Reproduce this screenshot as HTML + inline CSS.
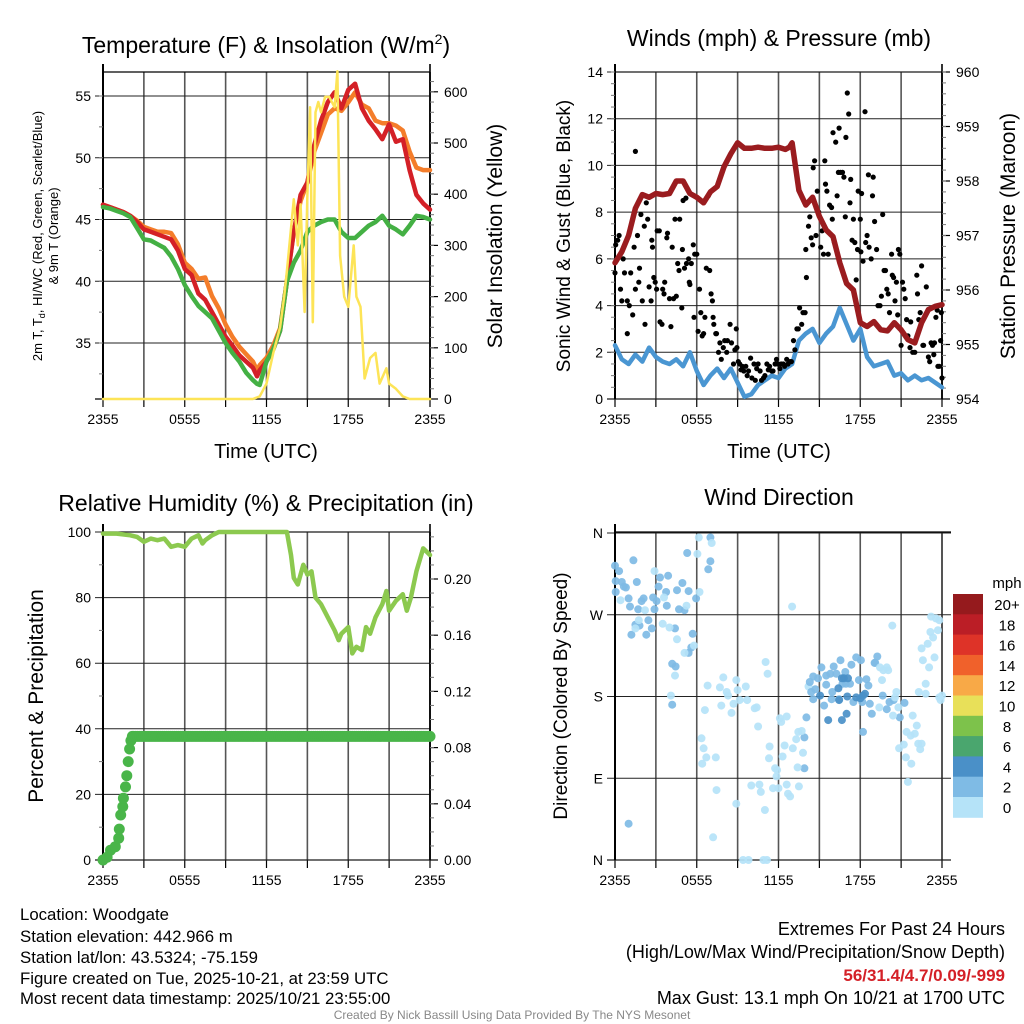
<!DOCTYPE html>
<html><head><meta charset="utf-8"><title>Woodgate Meteogram</title>
<style>
html,body{margin:0;padding:0;background:#fff;}
svg{display:block;font-family:"Liberation Sans",sans-serif;}
.ft{font-size:16.8px;fill:#000;}
.fr{font-size:18px;fill:#000;}
</style></head>
<body>
<svg id="chart" width="1024" height="1024" viewBox="0 0 1024 1024" xmlns="http://www.w3.org/2000/svg">
<rect width="1024" height="1024" fill="#fff"/>
<text x="266" y="53" font-size="23" text-anchor="middle">Temperature (F) &amp; Insolation (W/m<tspan dy="-9" font-size="14">2</tspan><tspan dy="9">)</tspan></text>
<text x="779" y="46" font-size="23" text-anchor="middle">Winds (mph) &amp; Pressure (mb)</text>
<text x="266" y="511" font-size="23" text-anchor="middle">Relative Humidity (%) &amp; Precipitation (in)</text>
<text x="779" y="505" font-size="23" text-anchor="middle">Wind Direction</text>

<text transform="translate(42,236) rotate(-90)" font-size="13" text-anchor="middle">2m T, T<tspan font-size="9" dy="3">d</tspan><tspan dy="-3">, HI/WC (Red, Green, Scarlet/Blue)</tspan></text>
<text transform="translate(58,236) rotate(-90)" font-size="13" text-anchor="middle">&amp; 9m T (Orange)</text>
<text transform="translate(502,236) rotate(-90)" font-size="21" text-anchor="middle">Solar Insolation (Yellow)</text>
<text x="266" y="458" font-size="20" text-anchor="middle">Time (UTC)</text>
<text transform="translate(570,236) rotate(-90)" font-size="19" text-anchor="middle">Sonic Wind &amp; Gust (Blue, Black)</text>
<text transform="translate(1015,236) rotate(-90)" font-size="21" text-anchor="middle">Station Pressure (Maroon)</text>
<text x="779" y="458" font-size="20" text-anchor="middle">Time (UTC)</text>
<text transform="translate(43,696) rotate(-90)" font-size="21" text-anchor="middle">Percent &amp; Precipitation</text>
<text transform="translate(567,696) rotate(-90)" font-size="19" text-anchor="middle">Direction (Colored By Speed)</text>
<text x="1007" y="588" font-size="15" text-anchor="middle">mph</text>

<g>
<text class="ft" x="20" y="920">Location: Woodgate</text>
<text class="ft" x="20" y="942">Station elevation: 442.966 m</text>
<text class="ft" x="20" y="963">Station lat/lon: 43.5324; -75.159</text>
<text class="ft" x="20" y="984">Figure created on Tue, 2025-10-21, at 23:59 UTC</text>
<text class="ft" x="20" y="1004">Most recent data timestamp: 2025/10/21 23:55:00</text>
</g>
<g text-anchor="end">
<text class="fr" x="1005" y="935">Extremes For Past 24 Hours</text>
<text class="fr" x="1005" y="958">(High/Low/Max Wind/Precipitation/Snow Depth)</text>
<text x="1005" y="981" font-size="17" font-weight="bold" fill="#d42027">56/31.4/4.7/0.09/-999</text>
<text class="fr" x="1005" y="1004">Max Gust: 13.1 mph On 10/21 at 1700 UTC</text>
</g>
<text x="512" y="1019" font-size="12" fill="#888" text-anchor="middle">Created By Nick Bassill Using Data Provided By The NYS Mesonet</text>
</svg>
<script>
// ---------- DATA ----------
const timeTickLabels = ["2355","0555","1155","1755","2355"];
const tempTicks = [35,40,45,50,55];
const solarTicks = [0,100,200,300,400,500,600];
const windTicks = [0,2,4,6,8,10,12,14];
const presTicks = [954,955,956,957,958,959,960];
const rhTicks = [0,20,40,60,80,100];
const precipTicks = [0,0.04,0.08,0.12,0.16,0.20];
const dirTicks = [0,90,180,270,360];
const dirTickLabels = ["N","E","S","W","N"];
const speedBins = ["20+","18","16","14","12","10","8","6","4","2","0"];

const tHours = [0,0.5,1,1.5,2,2.5,3,3.5,4,4.5,5,5.5,6,6.5,7,7.5,8,8.5,9,9.5,10,10.5,11,11.3,11.5,12,12.5,13,13.5,14,14.5,15,15.5,16,16.5,17,17.5,18,18.5,19,19.5,20,20.5,21,21.5,22,22.5,23,23.5,24];
const temp2m = [46.2,46,45.8,45.6,45.3,44.8,44.2,44,43.8,43.6,43.4,42.5,41,40.5,39,38.5,37.5,36.5,35.5,34.8,34,33.5,33,32.3,32.8,33.5,34.5,36,40,44,47,48,51,53,54.5,55.3,54,55.5,56,54,53,52.3,51.5,52.7,51.3,51.5,49,47,46.3,45.8];
const temp9m = [46.2,46,45.8,45.6,45.3,44.9,44.4,44.2,44,44,43.9,43,41.5,41,40.2,40.3,38.8,37.8,36.5,35.5,34.7,34.1,33.5,32.8,33.2,33.8,34.8,36.2,40,44,46.5,48,50.5,52,53.5,54,53.8,54.5,55.3,54.3,54,53,52.8,52.8,52.6,52.2,50.5,49.2,49,49];
const dewPt = [46,45.9,45.7,45.5,45.2,44.3,43.4,43.3,43,42.7,42,41,39.7,38.8,38,37.5,37,36,35,34.2,33.5,32.6,32,31.7,31.6,33.5,34.5,36,40,41.5,42.5,44,44.5,44.8,45,45,44,43.5,43.5,44,44.5,44.8,45.3,44.5,44.2,43.8,44.5,45.3,45.2,45];

const solarHours = [0,11,11.5,12,12.5,13,13.3,13.5,14,14.3,14.5,14.8,15,15.2,15.4,15.6,15.8,16,16.3,16.6,17,17.2,17.4,17.7,18,18.4,18.6,18.9,19.2,19.6,20,20.3,20.8,21,21.5,22,22.5,24];
const solarVals = [0,0,5,30,90,140,200,250,390,300,380,170,400,570,150,560,580,560,590,590,570,640,280,200,180,300,200,180,40,80,90,30,60,30,20,5,0,0];

const presVals = [956.5,956.7,957.0,957.5,957.75,957.7,957.77,957.75,957.77,958.0,958.0,957.77,957.7,957.6,957.8,957.9,958.26,958.5,958.7,958.6,958.6,958.62,958.6,958.6,958.62,958.58,958.62,958.7,957.83,957.56,957.7,957.35,957.1,956.98,956.5,956.12,956.0,955.4,955.33,955.42,955.27,955.25,955.4,955.27,955.09,955.03,955.4,955.64,955.7,955.73];
const pHours = [0,0.5,1,1.5,2,2.5,3,3.5,4,4.5,5,5.5,6,6.5,7,7.5,8,8.5,9,9.5,10,10.5,11,11.5,12,12.5,12.8,13,13.5,14,14.5,15,15.5,16,16.5,17,17.5,18,18.5,19,19.5,20,20.5,21,21.5,22,22.5,23,23.5,24];
const wHours = [0,0.5,1,1.5,2,2.5,3,3.5,4,4.5,5,5.5,6,6.5,7,7.5,8,8.5,9,9.5,10,10.5,11,11.5,12,12.5,13,13.5,14,14.5,15,15.5,16,16.5,17,17.5,18,18.5,19,19.5,20,20.5,21,21.5,22,22.5,23,23.5,24];
const windVals = [2.3,1.7,1.5,1.9,1.6,2.2,1.8,1.6,1.5,1.7,1.4,2.0,1.2,0.6,1.0,1.3,0.9,1.3,0.7,0.1,0.2,0.6,0.8,1.0,0.9,1.3,1.5,2.5,2.8,3.0,2.4,2.8,3.1,3.9,3.2,2.5,3.0,1.8,1.4,1.5,1.6,1.0,1.1,0.8,1.0,0.8,0.9,0.7,0.5];

const gustHours = [0,0.05,0.2,0.3,0.6,0.4,0.5,0.7,0.9,1.05,1.15,1.3,0.9,1.4,1.5,1.5,1.65,1.75,1.8,1.9,2.0,2.15,2.2,2.3,2.4,2.5,2.65,2.7,2.75,2.85,2.95,3.05,3.1,3.25,3.3,3.45,3.5,3.6,3.65,3.8,3.85,4.0,4.1,4.2,4.3,4.4,4.5,4.6,4.7,4.75,4.9,4.95,5.0,5.1,5.2,5.25,5.4,5.45,5.5,5.6,5.75,5.8,5.85,6.0,6.1,6.2,6.3,6.4,6.5,6.6,6.7,6.85,6.95,7.05,7.15,7.2,7.25,7.4,7.45,7.6,7.7,7.8,7.95,8.05,8.2,8.25,8.45,8.55,8.7,8.8,8.9,8.95,9.05,9.15,9.25,9.35,9.45,9.6,9.7,9.8,9.95,10.05,10.2,10.3,10.4,10.5,10.65,10.75,10.9,11.0,11.15,11.25,11.35,11.5,11.6,11.75,11.85,11.95,12.1,12.2,12.35,12.45,12.6,12.7,12.85,12.95,13.1,13.2,13.35,13.45,13.55,13.7,13.8,13.95,14.05,14.0,14.2,14.3,14.4,14.5,14.55,14.65,14.75,14.85,14.95,15.1,15.2,15.3,15.4,15.45,15.55,15.65,15.75,15.9,15.95,16.0,16.1,16.2,16.3,16.4,16.45,16.55,16.7,16.8,16.9,16.95,17.05,17.15,17.25,17.3,17.4,17.5,17.6,17.7,17.8,17.85,18.0,18.05,18.1,18.2,18.35,18.4,18.5,18.6,18.65,18.8,18.9,18.95,19.05,19.2,19.3,19.45,19.55,19.65,19.75,19.85,19.95,20.05,20.15,20.3,20.35,20.45,20.55,20.65,20.75,20.8,20.9,21.0,21.1,21.2,21.3,21.4,21.5,21.65,21.7,21.85,22.0,22.15,22.2,22.3,22.4,22.5,22.6,22.65,22.85,23.0,23.1,23.2,23.3,23.4,23.45,23.55,23.65,23.7,23.8,23.9,23.95,24.0];
const gustVals = [5.4,6.6,6.8,7.0,6.0,4.7,4.2,5.4,4.2,4.0,5.4,3.6,2.8,6.5,10.6,4.7,7.0,5.0,5.6,7.9,4.2,7.4,3.2,8.4,7.7,4.8,4.2,6.8,6.5,5.2,5.0,4.7,7.2,7.2,3.3,3.2,4.7,4.5,5.0,6.9,7.1,4.3,3.1,6.5,4.3,7.7,4.4,5.8,5.5,7.7,3.9,6.4,8.5,5.6,8.6,5.8,6.0,5.0,4.9,5.8,6.6,3.5,6.2,6.2,2.9,4.7,3.7,2.7,2.8,3.5,5.6,8.7,5.5,4.5,4.2,3.5,3.2,2.8,2.8,2.0,2.4,1.7,2.2,2.5,2.0,2.5,3.2,2.4,1.5,2.1,3.0,2.2,1.6,1.5,1.25,1.4,1.2,1.4,1.0,1.2,1.75,0.9,1.5,0.8,1.3,1.5,1.2,0.8,0.9,1.0,1.5,1.25,1.4,1.2,1.2,1.5,1.7,1.5,1.3,1.5,1.5,1.4,1.7,1.5,1.6,1.6,2.5,2.1,3.0,3.0,3.9,3.2,3.7,3.7,5.2,6.4,7.4,7.8,6.9,6.6,9.9,10.2,7.0,8.9,8.0,6.5,7.2,6.2,10.2,9.2,8.9,6.2,8.3,8.2,7.7,11.4,6.7,11.0,8.7,9.7,11.6,9.7,9.7,9.5,7.8,11.2,13.1,12.2,8.4,9.4,6.8,7.7,6.7,5.1,6.4,8.9,7.7,6.3,8.8,5.9,12.3,6.7,7.0,9.6,6.5,6.0,8.7,9.5,7.6,6.4,4.0,4.0,4.4,7.9,5.5,5.5,4.7,4.5,3.7,6.2,5.3,5.2,4.2,5.0,3.6,6.4,6.2,2.3,5.0,4.7,4.3,3.4,2.7,2.2,3.3,2.0,2.0,5.3,4.5,3.4,3.7,5.7,2.3,2.3,4.8,1.8,1.6,2.4,2.3,1.9,2.4,3.5,3.8,1.4,1.4,2.5,3.7,0.9];

const rhHours = [0,1,2,2.5,3,3.5,4,4.5,5,5.5,6,6.5,7,7.3,7.5,8,8.5,13.5,13.8,14,14.3,14.7,15,15.3,15.6,16,16.5,17,17.3,17.5,18,18.3,18.6,19,19.3,19.6,20,20.5,20.8,21,21.5,22,22.3,22.6,23,23.5,24];
const rhVals = [99.5,99.5,99,98.5,97,98,97.5,98,95.5,96,95.5,98,99,96.5,97.5,99,100,100,93,86,84,90,87,88,80,78,74,70,67,69,71,63,65,64,71,69,74,78,82,76,79,81,76,80,88,95,93];
const precipHours = [0,0.3,0.55,0.9,1.15,1.2,1.3,1.45,1.5,1.65,1.75,1.85,1.95,2.05,2.15];
const precipVals = [0,0.002,0.007,0.0095,0.0155,0.022,0.032,0.038,0.044,0.052,0.06,0.07,0.079,0.085,0.088];
const precipFinal = 0.088;

const dirHours = [0,0.3,0.05,0.5,0.65,0.05,0.8,1.0,1.1,1.35,1.6,1.7,1.95,2.1,1.8,1.5,1.2,2.3,2.45,2.7,2.8,2.9,3.05,3.2,3.3,3.75,3.8,3.9,4.4,4.2,4.45,4.55,4.7,4.95,5.1,5.3,5.4,5.7,5.6,5.4,5.95,4.2,1.0,6.85,7.0,7.0,14.05,13.9,13.9,18.2,19.05,
0.4,1.5,1.75,2.2,2.9,3.6,3.5,4.0,4.55,5.1,4.4,4.1,5.25,5.8,6.05,6.15,6.2,7.1,6.8,6.6,6.35,6.5,6.7,6.4,7.4,7.45,7.2,7.7,7.95,8.2,7.8,8.3,8.7,8.9,9.0,9.15,9.6,9.7,10.25,10.4,10.5,8.55,8.9,9.4,9.8,10.0,10.6,10.7,10.9,11.0,11.05,11.2,11.35,11.3,11.6,11.75,11.85,11.9,12.0,12.1,12.3,12.45,12.6,12.7,12.85,12.6,13.0,13.05,13.3,13.45,13.5,13.7,13.4,13.8,14.2,11.15,12.2,
14.3,14.4,14.55,14.7,14.55,14.9,15.15,15.35,15.5,15.5,15.8,15.95,16.05,16.25,16.55,16.7,16.9,16.95,17.35,17.25,17.5,17.7,17.9,18.05,18.15,18.45,18.6,18.7,18.85,19.1,19.25,19.65,19.95,20.15,20.45,20.9,21.25,15.9,16.45,
15.65,16.4,16.65,16.65,16.8,17.0,17.05,17.1,17.7,18.0,18.2,18.35,16.45,15.05,
19.45,19.7,20.05,19.95,19.6,19.4,20.35,20.4,20.65,20.8,20.55,20.85,21.2,21.35,21.5,21.4,21.75,21.7,21.85,22.0,22.15,22.25,22.4,22.5,22.3,22.5,22.6,22.8,22.95,23.05,23.15,23.2,23.35,23.45,23.55,23.7,23.8,23.9,23.8,24.0,22.8];
const dirDeg = [324,318,307,306,301,295,300,288,279,330,306,276,285,288,258,259,248,248,264,255,289,276,285,301,311,295,280,313,255,216,213,297,276,305,275,338,296,249,234,228,288,171,40,320,329,355,157,135,101,141,217,
286,255,264,275,318,289,260,256,243,228,203,181,280,236,337,355,295,349,192,165,134,123,113,106,113,77,25,190,201,185,170,181,172,198,187,176,191,176,167,168,147,162,62,0,0,82,83,75,0,55,218,205,125,112,79,101,92,99,79,156,114,126,158,73,70,83,279,123,133,141,81,142,102,118,191,0,152,
196,185,202,188,177,200,212,170,203,193,205,185,213,205,220,194,207,194,215,194,174,223,198,220,174,199,192,172,161,217,224,181,166,174,176,157,173,177,177,
154,189,200,154,200,161,180,200,179,178,181,183,176,181,
212,209,209,212,198,168,258,159,185,168,179,123,127,113,86,141,106,137,159,139,148,128,122,128,185,233,220,194,238,212,251,268,245,223,266,253,264,176,179,181,183];
const dirSpeed = [3,3,3,3,3,3,3,3,3,3,3,3,3,3,3,3,3,3,3,3,3,3,3,3,3,3,3,3,3,3,3,3,3,3,3,3,3,3,3,3,3,3,3,3,3,3,3,3,3,3,3,
1,1,1,1,1,1,1,1,1,1,1,1,1,1,1,1,1,1,1,1,1,1,1,1,1,1,1,1,1,1,1,1,1,1,1,1,1,1,1,1,1,1,1,1,1,1,1,1,1,1,1,1,1,1,1,1,1,1,1,1,1,1,1,1,1,1,1,1,1,1,1,1,1,1,1,1,1,
3,3,3,3,3,3,3,3,3,3,3,3,3,3,3,3,3,3,3,3,3,3,3,3,3,3,3,3,3,3,3,3,3,3,3,3,3,3,3,
5,5,5,5,5,5,5,5,5,5,5,5,5,5,
1,1,1,1,1,1,1,1,1,1,1,1,1,1,1,1,1,1,1,1,1,1,1,1,1,1,1,1,1,1,1,1,1,1,1,1,1,1,1,1,1];

// ---------- helpers ----------
const NS = "http://www.w3.org/2000/svg";
const svg = document.getElementById("chart");
function mk(tag, attrs, parent){
  const e = document.createElementNS(NS, tag);
  for (const k in attrs) e.setAttribute(k, attrs[k]);
  (parent || svg).appendChild(e);
  return e;
}
const binColors = ["#951a1d","#bb1e26","#de3328","#f0612b","#f8a947","#e8e059","#7dc24b","#4aa66e","#4a90c8","#7fbbe5","#b5e3f8"];
function speedColor(s){ if (s < 2) return binColors[10]; if (s < 4) return binColors[9]; if (s < 6) return binColors[8]; return binColors[7]; }

const L = {x0:103, x1:430}, R = {x0:615, x1:942};
const T = {y0:72, y1:399}, B = {y0:532, y1:860};
function xs(p){ return h => p.x0 + h * (p.x1 - p.x0) / 24; }
const x1 = xs(L), x2 = xs(R);
const yTemp = v => 96 + (55 - v) * 12.35;
const ySolar = w => 399 - w * 0.512;
const yWind = m => 399 - m * (327/14);
const yPres = p => 399 - (p - 954) * 54.5;
const yRH = v => 860 - v * 3.28;
const yPrec = v => 860 - v * 1405;
const yDir = d => 860 - d * 327 / 360;

function frame(name, p, yr, xf, yTicksL, yfL, labL, yTicksR, yfR, labR, hGrid){
  const g = mk("g", {});
  
  
  for (let i = 0; i <= 8; i++){
    const x = xf(i*3);
    const l = mk("line", {x1:x, x2:x, y1:yr.y0, y2:yr.y1, stroke:"#555", "stroke-width":(i===0||i===8)?2:1.6}, g);
    
    
    const tk = mk("line", {x1:x, x2:x, y1:yr.y1, y2:yr.y1+8, stroke:"#000", "stroke-width":1.2}, g);
    
    
  }
  for (let i = 0; i < timeTickLabels.length; i++){
    const t = mk("text", {x:xf(i*6), y:yr.y1+25, "font-size":14, "text-anchor":"middle"}, g);
    t.textContent = timeTickLabels[i];
    
    
  }
  const top = mk("line", {x1:p.x0, x2:p.x1 + (hGrid==='wide'?9:0), y1:yr.y0, y2:yr.y0, stroke:"#000", "stroke-width":1.2}, g);
  
  
  const bot = mk("line", {x1:p.x0-8, x2:p.x1 + (hGrid==='wide'?9:0), y1:yr.y1, y2:yr.y1, stroke:"#000", "stroke-width":1.2}, g);
  
  
  for (let i = 0; i < yTicksL.length; i++){
    const y = yfL(yTicksL[i]);
    const gl = mk("line", {x1:p.x0-8, x2:p.x1 + (hGrid==='wide'?9:0), y1:y, y2:y, stroke:"#222", "stroke-width":1}, g);
    
    
    const t = mk("text", {x:p.x0-12, y:y+5, "font-size":14, "text-anchor":"end"}, g);
    t.textContent = labL ? labL[i] : yTicksL[i];
    
    
  }
  const la = mk("line", {x1:p.x0, x2:p.x0, y1:yr.y0-8, y2:yr.y1, stroke:"#000", "stroke-width":2}, g);
  
  
  if (yTicksR){
    const ra = mk("line", {x1:p.x1, x2:p.x1, y1:yr.y0-8, y2:yr.y1, stroke:"#000", "stroke-width":1.6}, g);
    
    
    for (let i = 0; i < yTicksR.length; i++){
      const y = yfR(yTicksR[i]);
      const tk = mk("line", {x1:p.x1, x2:p.x1+8, y1:y, y2:y, stroke:"#000", "stroke-width":1.2}, g);
      
      
      const t = mk("text", {x:p.x1+14, y:y+5, "font-size":14}, g);
      t.textContent = labR ? labR[i] : yTicksR[i];
      
      
    }
  }
}
function minor(p, vals, yf, side){
  for (const v of vals){
    const y = yf(v);
    const x = side==='L' ? p.x0 : p.x1;
    const m = mk("line", {x1:x, x2:side==='L'?x-4:x+4, y1:y, y2:y, stroke:"#777", "stroke-width":1});
    
    
  }
}
function range(a,b,s){ const r=[]; for(let v=a; v<=b+1e-9; v+=s) r.push(+v.toFixed(4)); return r; }
function path(xa, ya, xf, yf, color, w, name){
  let d = "";
  for (let i = 0; i < xa.length; i++) d += (i?"L":"M") + xf(xa[i]).toFixed(1) + "," + yf(ya[i]).toFixed(1);
  const e = mk("path", {d:d, fill:"none", stroke:color, "stroke-width":w, "stroke-linejoin":"round", "stroke-linecap":"round"});
  
  
  return e;
}

// Panel 1
frame("temp-panel", L, T, x1, tempTicks, yTemp, null, solarTicks, ySolar, null);
minor(L, range(32.5,55,2.5), yTemp, 'L');
minor(L, range(20,620,20), ySolar, 'R');
path(tHours, temp9m, x1, yTemp, "#f47d2a", 4.5, "temp-9m-line");
path(tHours, temp2m, x1, yTemp, "#d42027", 4.5, "temp-2m-line");
path(tHours, dewPt, x1, yTemp, "#44b044", 4.5, "dewpoint-line");
path(solarHours, solarVals, x1, ySolar, "#fde457", 2.5, "solar-insolation-line");

// Panel 2
frame("wind-panel", R, T, x2, windTicks, yWind, null, presTicks, yPres, null);
minor(R, range(0.5,14,0.5), yWind, 'L');
minor(R, range(954.2,960,0.2), yPres, 'R');
path(wHours, windVals, x2, yWind, "#4a96d2", 4.5, "sonic-wind-line");
for (let i = 0; i < gustHours.length; i++){
  const c = mk("circle", {cx:x2(gustHours[i]).toFixed(1), cy:yWind(gustVals[i]).toFixed(1), r:2.6, fill:"#000"});
  
  
}
path(pHours, presVals, x2, yPres, "#9a1c1f", 5.5, "station-pressure-line");

// Panel 3
frame("rh-panel", L, B, x1, rhTicks, yRH, null, precipTicks, yPrec, ["0.00","0.04","0.08","0.12","0.16","0.20"]);
minor(L, range(10,90,20), yRH, 'L');
minor(L, range(0.01,0.23,0.01), yPrec, 'R');
path(rhHours, rhVals, x1, yRH, "#8cc94f", 4.5, "relative-humidity-line");
{
  const ph = precipHours.slice(), pv = precipVals.slice();
  for (let h = 2.25; h <= 24.001; h += 0.15){ ph.push(h); pv.push(precipFinal); }
  for (let i = 0; i < ph.length; i++){
    const c = mk("circle", {cx:x1(ph[i]).toFixed(1), cy:yPrec(pv[i]).toFixed(1), r:5.5, fill:"#49b549"});
    
    
  }
}

// Panel 4
frame("direction-panel", R, B, x2, dirTicks, yDir, dirTickLabels, null, null, null, 'wide');
for (let i = 0; i < dirHours.length; i++){
  const c = mk("circle", {cx:x2(dirHours[i]).toFixed(1), cy:yDir(dirDeg[i]).toFixed(1), r:4, fill:speedColor(dirSpeed[i]), "fill-opacity":0.92});
  
  
}
for (let i = 0; i < speedBins.length; i++){
  const y = 594 + i * 20.3;
  const r = mk("rect", {x:953, y:y.toFixed(1), width:30, height:20.8, fill:binColors[i]});
  
  
  const t = mk("text", {x:1007, y:(y+16).toFixed(1), "font-size":15, "text-anchor":"middle"});
  t.textContent = speedBins[i];
  
  
}
</script>
</body></html>
